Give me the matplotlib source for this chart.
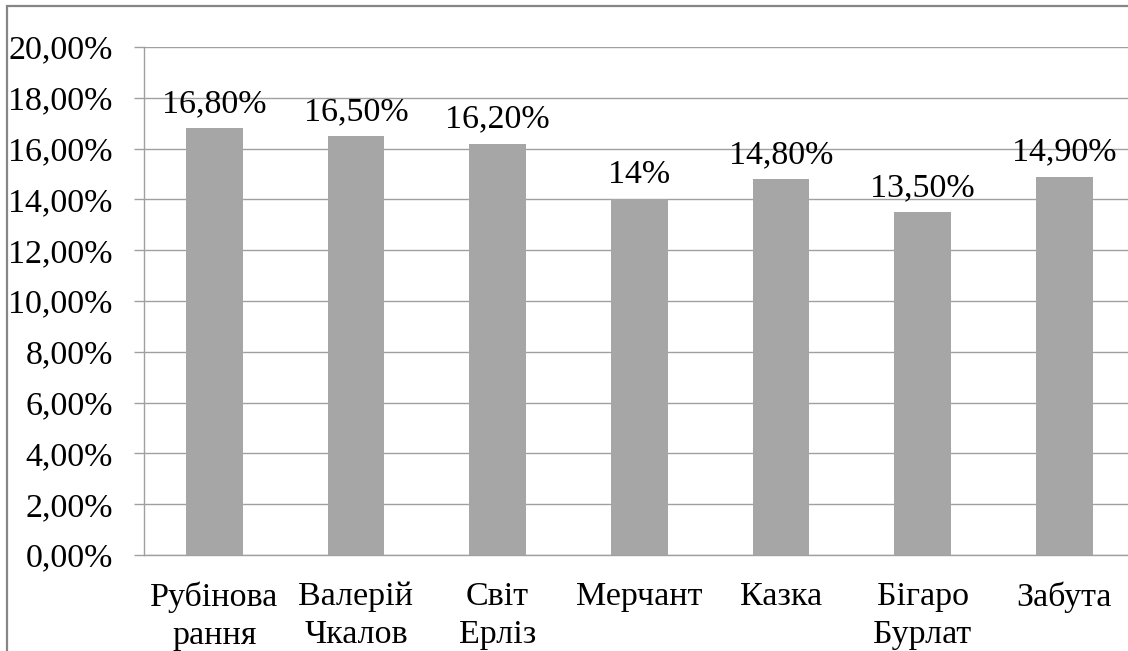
import matplotlib
matplotlib.use("Agg")
import matplotlib.pyplot as plt
from matplotlib.patches import Rectangle
from matplotlib.ticker import FuncFormatter

categories = ["Рубінова\nрання", "Валерій\nЧкалов", "Світ\nЕрліз", "Мерчант",
              "Казка", "Бігаро\nБурлат", "Забута"]
values = [16.8, 16.5, 16.2, 14.0, 14.8, 13.5, 14.9]
value_labels = ["16,80%", "16,50%", "16,20%", "14%", "14,80%", "13,50%", "14,90%"]
y_ticks = [0, 2, 4, 6, 8, 10, 12, 14, 16, 18, 20]

plt.rcParams["font.family"] = ["Liberation Serif", "DejaVu Serif"]

W, H = 1128, 651
FS = 24.5
fig = plt.figure(figsize=(W / 100, H / 100), dpi=100)

# outer chart frame
fig.patches.append(Rectangle((7 / W, -0.2), 1.2, 1.2 - 6 / H,
                             transform=fig.transFigure, fill=False,
                             edgecolor="#868686", linewidth=1.6, zorder=0))

ax = fig.add_axes([143.5 / W, 96 / H, (1135 - 143.5) / W, (555 - 47) / H])

x = list(range(len(categories)))
ax.bar(x, values, width=0.4, color="#A6A6A6", zorder=3)
ax.set_xlim(-0.5, len(categories) - 0.5)
ax.set_ylim(0, 20)

ax.set_yticks(y_ticks)
ax.yaxis.set_major_formatter(FuncFormatter(lambda v, p: f"{v:.2f}%".replace(".", ",")))
ax.set_xticks(x)
ax.set_xticklabels(categories, fontsize=FS, linespacing=1.32)
ax.tick_params(axis="x", length=0, pad=19)
ax.tick_params(axis="y", length=7.2, width=1, color="#A0A0A0", pad=15, labelsize=FS)

ax.grid(axis="y", color="#A0A0A0", linewidth=1, zorder=0)
for side in ("top", "right"):
    ax.spines[side].set_visible(False)
for side in ("left", "bottom"):
    ax.spines[side].set_color("#A0A0A0")
    ax.spines[side].set_linewidth(1)

for xi, v, lab in zip(x, values, value_labels):
    ax.annotate(lab, (xi, v), xytext=(0, 6.5), textcoords="offset points",
                ha="center", va="bottom", fontsize=FS, zorder=4)

fig.savefig("out.png", dpi=100)
